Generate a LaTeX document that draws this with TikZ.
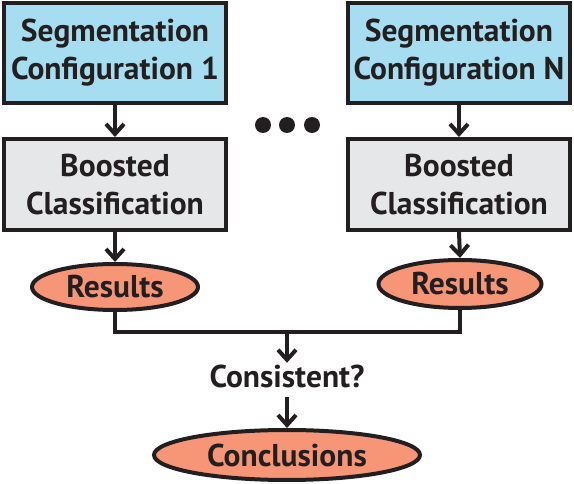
\documentclass[tikz,border=0pt]{standalone}
\usepackage{fontspec}
\setmainfont{PT Sans}
\usetikzlibrary{arrows.meta,shapes.geometric}
\definecolor{segblue}{HTML}{A6DDF0}
\definecolor{boostgray}{HTML}{E6E7E8}
\definecolor{ressalmon}{HTML}{F79677}
\definecolor{ink}{HTML}{231F20}
\begin{document}
\begin{tikzpicture}[x=1pt,y=-1pt,
  every node/.style={font=\fontsize{31.5}{38}\selectfont\bfseries, text=ink},
  segbox/.style={draw=ink, line width=4pt, fill=segblue, minimum width=222pt, minimum height=100pt, align=center, inner sep=0pt},
  boostbox/.style={draw=ink, line width=4pt, fill=boostgray, minimum width=222pt, minimum height=91pt, align=center, inner sep=0pt},
  resell/.style={ellipse, draw=ink, line width=4pt, fill=ressalmon, inner sep=0pt},
  flow/.style={draw=ink, line width=4pt, -{Straight Barb[length=10pt,width=18pt,line width=4pt]}},
  link/.style={draw=ink, line width=4pt}]
\useasboundingbox (0,0) rectangle (574,484);
\node[segbox] (s1) at (115,53) {Segmentation\\Configuration 1};
\node[segbox] (sN) at (459,53) {Segmentation\\Configuration N};
\node[boostbox] (b1) at (115,184.5) {Boosted\\Classification};
\node[boostbox] (bN) at (459,184.5) {Boosted\\Classification};
\node[resell, minimum width=166pt, minimum height=46pt] (r1) at (115,287) {Results};
\node[resell, minimum width=163pt, minimum height=48pt] (rN) at (460,284) {Results};
\node[circle, fill=ink, minimum size=16pt, inner sep=0pt] (d1) at (263,125) {};
\node[circle, fill=ink, minimum size=16pt, inner sep=0pt] (d2) at (287,125) {};
\node[circle, fill=ink, minimum size=16pt, inner sep=0pt] (d3) at (312,125) {};
\node[inner xsep=0pt, inner ysep=3pt, text height=22pt, text depth=6pt] (cons) at (287,380) {Consistent?};
\node[resell, minimum width=266pt, minimum height=50pt] (conc) at (287,455) {Conclusions};
\coordinate (join) at (287,332);
\draw[flow] (s1.south) -- (b1.north);
\draw[flow] (sN.south) -- (bN.north);
\draw[flow] (b1.south) -- (r1.north);
\draw[flow] (bN.south) -- (rN.north);
\draw[link] (r1.south) |- (join) -| (rN.south);
\draw[flow] (join) -- (cons.north);
\draw[flow] (cons.south) -- (conc.north);
\end{tikzpicture}
\end{document}
